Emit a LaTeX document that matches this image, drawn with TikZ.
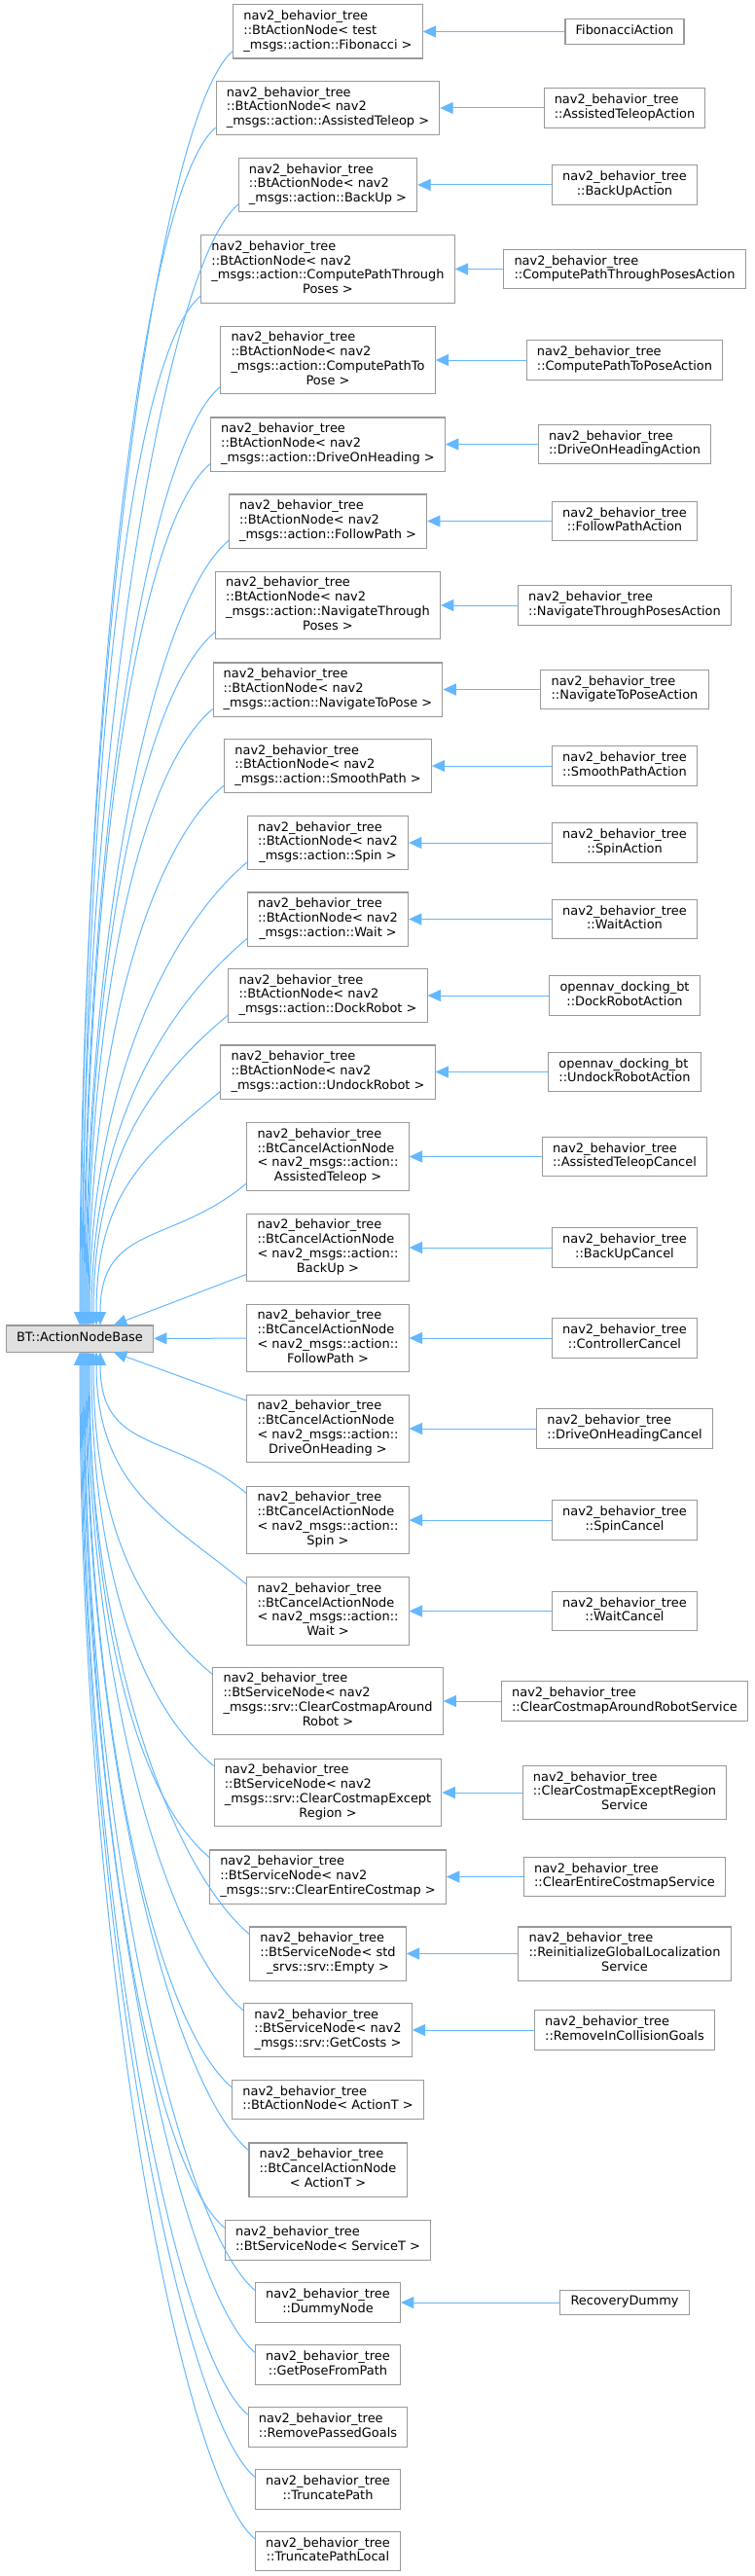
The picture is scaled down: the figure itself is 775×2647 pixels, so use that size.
\documentclass[tikz,border=0pt]{standalone}
\usepackage{fontspec}
\setmainfont{DejaVu Sans}
\usepackage{tikz}
\usetikzlibrary{arrows.meta}

\definecolor{edgeblue}{HTML}{63B8FF}
\definecolor{boxgray}{HTML}{999999}
\definecolor{basegray}{HTML}{E0E0E0}

% class label: left aligned lines, last line centred
\newcommand{\cls}[2]{\begin{tabular}{@{}l@{}}#1\\\multicolumn{1}{@{}c@{}}{#2}\end{tabular}}
\newcommand{\bt}{nav2\_behavior\_tree}

\begin{document}
\begin{tikzpicture}[x=0.75pt,y=-0.75pt,>={Triangle[length=10pt,width=9pt]},
  box/.style={draw=boxgray,line width=0.8pt,fill=white,inner xsep=8pt,inner ysep=4pt,
    font=\fontsize{9.7pt}{11.1pt}\selectfont},
  inh/.style={draw=edgeblue,line width=0.75pt,<-}]
  \fill[white] (0,0) rectangle (775,2647);
  \useasboundingbox (0,0) rectangle (775,2647);

  % base class
  \node[box,fill=basegray,inner ysep=4.6pt] (base) at (82,1375.5) {\strut BT::ActionNodeBase};

  % middle column
  \node[box] (aFib) at (337,32.5) {\cls{\bt\\::BtActionNode< test}{\_msgs::action::Fibonacci >}};
  \node[box] (aTeleop) at (337,111) {\cls{\bt\\::BtActionNode< nav2}{\_msgs::action::AssistedTeleop >}};
  \node[box] (aBackUp) at (337,190) {\cls{\bt\\::BtActionNode< nav2}{\_msgs::action::BackUp >}};
  \node[box] (aCPTP) at (337,276.5) {\cls{\bt\\::BtActionNode< nav2\\\_msgs::action::ComputePathThrough}{Poses >}};
  \node[box] (aCPTo) at (337,370) {\cls{\bt\\::BtActionNode< nav2\\\_msgs::action::ComputePathTo}{Pose >}};
  \node[box] (aDrive) at (337,456.5) {\cls{\bt\\::BtActionNode< nav2}{\_msgs::action::DriveOnHeading >}};
  \node[box] (aFollow) at (337,535.5) {\cls{\bt\\::BtActionNode< nav2}{\_msgs::action::FollowPath >}};
  \node[box] (aNTP) at (337,622) {\cls{\bt\\::BtActionNode< nav2\\\_msgs::action::NavigateThrough}{Poses >}};
  \node[box] (aNTo) at (337,708.5) {\cls{\bt\\::BtActionNode< nav2}{\_msgs::action::NavigateToPose >}};
  \node[box] (aSmooth) at (337,787) {\cls{\bt\\::BtActionNode< nav2}{\_msgs::action::SmoothPath >}};
  \node[box] (aSpin) at (337,866) {\cls{\bt\\::BtActionNode< nav2}{\_msgs::action::Spin >}};
  \node[box] (aWait) at (337,944.5) {\cls{\bt\\::BtActionNode< nav2}{\_msgs::action::Wait >}};
  \node[box] (aDock) at (337,1023) {\cls{\bt\\::BtActionNode< nav2}{\_msgs::action::DockRobot >}};
  \node[box] (aUndock) at (337,1101.5) {\cls{\bt\\::BtActionNode< nav2}{\_msgs::action::UndockRobot >}};
  \node[box] (cTeleop) at (337,1188.5) {\cls{\bt\\::BtCancelActionNode\\< nav2\_msgs::action::}{AssistedTeleop >}};
  \node[box] (cBackUp) at (337,1282) {\cls{\bt\\::BtCancelActionNode\\< nav2\_msgs::action::}{BackUp >}};
  \node[box] (cFollow) at (337,1375) {\cls{\bt\\::BtCancelActionNode\\< nav2\_msgs::action::}{FollowPath >}};
  \node[box] (cDrive) at (337,1468) {\cls{\bt\\::BtCancelActionNode\\< nav2\_msgs::action::}{DriveOnHeading >}};
  \node[box] (cSpin) at (337,1562) {\cls{\bt\\::BtCancelActionNode\\< nav2\_msgs::action::}{Spin >}};
  \node[box] (cWait) at (337,1655.5) {\cls{\bt\\::BtCancelActionNode\\< nav2\_msgs::action::}{Wait >}};
  \node[box] (sAround) at (337,1748) {\cls{\bt\\::BtServiceNode< nav2\\\_msgs::srv::ClearCostmapAround}{Robot >}};
  \node[box] (sExcept) at (337,1842) {\cls{\bt\\::BtServiceNode< nav2\\\_msgs::srv::ClearCostmapExcept}{Region >}};
  \node[box] (sEntire) at (337,1928.5) {\cls{\bt\\::BtServiceNode< nav2}{\_msgs::srv::ClearEntireCostmap >}};
  \node[box] (sEmpty) at (337,2007.5) {\cls{\bt\\::BtServiceNode< std}{\_srvs::srv::Empty >}};
  \node[box] (sCosts) at (337,2086) {\cls{\bt\\::BtServiceNode< nav2}{\_msgs::srv::GetCosts >}};
  \node[box] (aGeneric) at (337,2157.5) {\cls{\bt}{::BtActionNode< ActionT >}};
  \node[box] (cGeneric) at (337,2229.5) {\cls{\bt\\::BtCancelActionNode}{< ActionT >}};
  \node[box] (sGeneric) at (337,2302) {\cls{\bt}{::BtServiceNode< ServiceT >}};
  \node[box] (dummy) at (337,2366) {\cls{\bt}{::DummyNode}};
  \node[box] (getPose) at (337,2430) {\cls{\bt}{::GetPoseFromPath}};
  \node[box] (rmGoals) at (337,2494) {\cls{\bt}{::RemovePassedGoals}};
  \node[box] (trunc) at (337,2558) {\cls{\bt}{::TruncatePath}};
  \node[box] (truncLocal) at (337,2621.5) {\cls{\bt}{::TruncatePathLocal}};

  % right column
  \node[box] (rFib) at (642,32.5) {\strut FibonacciAction};
  \node[box] (rTeleop) at (642,111) {\cls{\bt}{::AssistedTeleopAction}};
  \node[box] (rBackUp) at (642,190) {\cls{\bt}{::BackUpAction}};
  \node[box] (rCPTP) at (642,276.5) {\cls{\bt}{::ComputePathThroughPosesAction}};
  \node[box] (rCPTo) at (642,370) {\cls{\bt}{::ComputePathToPoseAction}};
  \node[box] (rDrive) at (642,456.5) {\cls{\bt}{::DriveOnHeadingAction}};
  \node[box] (rFollow) at (642,535.5) {\cls{\bt}{::FollowPathAction}};
  \node[box] (rNTP) at (642,622) {\cls{\bt}{::NavigateThroughPosesAction}};
  \node[box] (rNTo) at (642,708.5) {\cls{\bt}{::NavigateToPoseAction}};
  \node[box] (rSmooth) at (642,787) {\cls{\bt}{::SmoothPathAction}};
  \node[box] (rSpin) at (642,866) {\cls{\bt}{::SpinAction}};
  \node[box] (rWait) at (642,944.5) {\cls{\bt}{::WaitAction}};
  \node[box] (rDock) at (642,1023) {\cls{opennav\_docking\_bt}{::DockRobotAction}};
  \node[box] (rUndock) at (642,1101.5) {\cls{opennav\_docking\_bt}{::UndockRobotAction}};
  \node[box] (rcTeleop) at (642,1188.5) {\cls{\bt}{::AssistedTeleopCancel}};
  \node[box] (rcBackUp) at (642,1282) {\cls{\bt}{::BackUpCancel}};
  \node[box] (rcFollow) at (642,1375) {\cls{\bt}{::ControllerCancel}};
  \node[box] (rcDrive) at (642,1468) {\cls{\bt}{::DriveOnHeadingCancel}};
  \node[box] (rcSpin) at (642,1562) {\cls{\bt}{::SpinCancel}};
  \node[box] (rcWait) at (642,1655.5) {\cls{\bt}{::WaitCancel}};
  \node[box] (rsAround) at (642,1748) {\cls{\bt}{::ClearCostmapAroundRobotService}};
  \node[box] (rsExcept) at (642,1842) {\cls{\bt\\::ClearCostmapExceptRegion}{Service}};
  \node[box] (rsEntire) at (642,1928.5) {\cls{\bt}{::ClearEntireCostmapService}};
  \node[box] (rsEmpty) at (642,2007.5) {\cls{\bt\\::ReinitializeGlobalLocalization}{Service}};
  \node[box] (rsCosts) at (642,2086) {\cls{\bt}{::RemoveInCollisionGoals}};
  \node[box] (rDummy) at (642,2366) {\strut RecoveryDummy};

  % derived -> template instance
  \foreach \a/\b in {aFib/rFib,aTeleop/rTeleop,aBackUp/rBackUp,aCPTP/rCPTP,aCPTo/rCPTo,
      aDrive/rDrive,aFollow/rFollow,aNTP/rNTP,aNTo/rNTo,aSmooth/rSmooth,aSpin/rSpin,
      aWait/rWait,aDock/rDock,aUndock/rUndock,cTeleop/rcTeleop,cBackUp/rcBackUp,
      cFollow/rcFollow,cDrive/rcDrive,cSpin/rcSpin,cWait/rcWait,sAround/rsAround,
      sExcept/rsExcept,sEntire/rsEntire,sEmpty/rsEmpty,sCosts/rsCosts,dummy/rDummy}
    \draw[inh] (\a) -- (\b);

  % everything -> base
  \foreach \n/\xb in {aFib/82,aTeleop/83,aBackUp/84,aCPTP/85,aCPTo/86,aDrive/87,aFollow/88,
      aNTP/89,aNTo/90,aSmooth/91,aSpin/92,aWait/94,aDock/96,aUndock/99,cTeleop/103}
    \draw[inh] (base.north -| \xb,0) to[out=90,in=220,out looseness=1.28,in distance=75pt]
      ([yshift=6pt]\n.south west);
  \foreach \n/\xb in {cSpin/103,cWait/99,sAround/96,sExcept/94,sEntire/92,sEmpty/91,
      sCosts/90,aGeneric/89,cGeneric/88,sGeneric/87,dummy/86,getPose/85,rmGoals/84,
      trunc/83,truncLocal/82}
    \draw[inh] (base.south -| \xb,0) to[out=270,in=140,out looseness=1.28,in distance=75pt]
      ([yshift=-6pt]\n.north west);
  \draw[inh] (base.north -| 117,0) -- ([yshift=6pt]cBackUp.south west);
  \draw[inh] (base) -- (cFollow);
  \draw[inh] (base.south -| 117,0) -- ([yshift=-5pt]cDrive.north west);
\end{tikzpicture}
\end{document}
